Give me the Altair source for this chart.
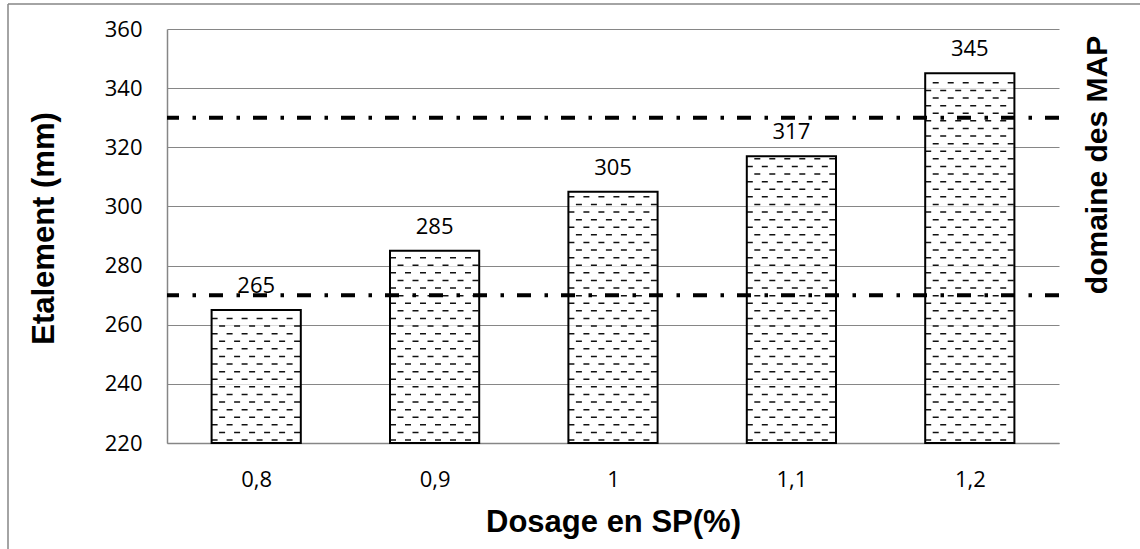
import json

import altair as alt
import pandas as pd

# Spread (mm) for each superplasticizer dosage
dosages = ["0,8", "0,9", "1", "1,1", "1,2"]
etalement = [265, 285, 305, 317, 345]
# Bounds of the self-compacting (MAP) domain
map_limits = [270, 330]
y_ticks = [220, 240, 260, 280, 300, 320, 340, 360]
y_min, y_max = 220, 360

GRID = "#868686"
TICK_FONT = "Open Sans"
TITLE_FONT = "Liberation Sans"

bars = pd.DataFrame({
    "idx": list(range(len(dosages))),
    "dosage": dosages,
    "etalement": etalement,
})

# Horizontal dashed hatching inside each bar, one row every ROW_STEP units
ROW_STEP = 2.57
rows = []
for i, v in zip(bars["idx"], bars["etalement"]):
    y = y_min + 1.0
    k = 0
    while y < v - 0.8:
        rows.append({"idx": i, "y": y, "odd": k % 2})
        y += ROW_STEP
        k += 1
hatch = pd.DataFrame(rows)

limits = pd.DataFrame({"limit": map_limits})
side_label = pd.DataFrame({"t": ["domaine des MAP"]})
frame = pd.DataFrame({"k": [0]})

x_scale = alt.Scale(domain=[-0.5, len(dosages) - 0.5], nice=False, zero=False)
y_scale = alt.Scale(domain=[y_min, y_max], nice=False, zero=False)

label_expr = json.dumps(dosages) + "[datum.value]"

x_axis = alt.Axis(
    values=list(range(len(dosages))),
    labelExpr=label_expr,
    grid=False,
    ticks=False,
    domainColor=GRID,
    domainWidth=1.5,
    labelFont=TICK_FONT,
    labelFontSize=22,
    labelColor="black",
    labelPadding=26,
    title="Dosage en SP(%)",
    titleFont=TITLE_FONT,
    titleFontSize=31,
    titleFontWeight="bold",
    titleColor="black",
    titleBaseline="alphabetic",
    titleY=88,
)

y_axis = alt.Axis(
    values=y_ticks,
    grid=True,
    gridColor=GRID,
    gridWidth=1.2,
    ticks=False,
    domainColor=GRID,
    domainWidth=1.5,
    labelFont=TICK_FONT,
    labelFontSize=22,
    labelColor="black",
    labelPadding=25,
    labelBaseline="middle",
    title="Etalement (mm)",
    titleFont=TITLE_FONT,
    titleFontSize=31,
    titleFontWeight="bold",
    titleColor="black",
    titleAngle=270,
    titleAlign="center",
    titleBaseline="alphabetic",
    titleX=-114,
    titleY=199,
)

base = alt.Chart(bars).transform_calculate(
    x0="datum.idx - 0.25", x1="datum.idx + 0.25"
)

bar_fill = base.mark_bar(color="white", opacity=0.7).encode(
    x=alt.X("x0:Q", scale=x_scale, axis=x_axis),
    x2="x1:Q",
    y=alt.Y("etalement:Q", scale=y_scale, axis=y_axis),
    y2=alt.datum(y_min),
)


def hatch_layer(parity, offset):
    return (
        alt.Chart(hatch)
        .transform_filter(alt.datum.odd == parity)
        .transform_calculate(x0="datum.idx - 0.25", x1="datum.idx + 0.25")
        .mark_rule(color="#111111", strokeWidth=1.5, strokeDash=[6, 9],
                   strokeDashOffset=offset)
        .encode(
            x=alt.X("x0:Q", scale=x_scale),
            x2="x1:Q",
            y=alt.Y("y:Q", scale=y_scale),
        )
    )


bar_outline = base.mark_bar(fillOpacity=0, stroke="black", strokeWidth=2).encode(
    x=alt.X("x0:Q", scale=x_scale),
    x2="x1:Q",
    y=alt.Y("etalement:Q", scale=y_scale),
    y2=alt.datum(y_min),
)

limit_lines = alt.Chart(limits).mark_rule(
    color="black", strokeWidth=4, strokeDash=[14, 13, 3.5, 13.5]
).encode(y=alt.Y("limit:Q", scale=y_scale))

value_labels = alt.Chart(bars).mark_text(
    font=TICK_FONT, fontSize=22, color="black", baseline="alphabetic", dy=-17
).encode(
    x=alt.X("idx:Q", scale=x_scale),
    y=alt.Y("etalement:Q", scale=y_scale),
    text="etalement:Q",
)

side_title = alt.Chart(side_label).mark_text(
    font=TITLE_FONT, fontSize=30, fontWeight="bold", color="black",
    angle=270, align="center", baseline="alphabetic",
).encode(x=alt.value(940), y=alt.value(136), text="t:N")

# Thin frame around the chart area (top and left edges)
frame_top = alt.Chart(frame).mark_rule(color=GRID, strokeWidth=1.5).encode(
    x=alt.value(-159), x2=alt.value(973), y=alt.value(-25)
)
frame_left = alt.Chart(frame).mark_rule(color=GRID, strokeWidth=1.5).encode(
    x=alt.value(-159), y=alt.value(-25), y2=alt.value(520)
)

chart = (
    alt.layer(
        bar_fill,
        hatch_layer(0, 0),
        hatch_layer(1, 7.5),
        bar_outline,
        limit_lines,
        value_labels,
        side_title,
        frame_top,
        frame_left,
    )
    .properties(
        width=892,
        height=414,
        padding={"left": 167, "top": 29, "right": 81, "bottom": 106},
        autosize=alt.AutoSizeParams(type="none"),
        background="white",
    )
    .configure_view(strokeWidth=0)
)

chart.save("out.html", embed_options={"renderer": "svg", "actions": False})
